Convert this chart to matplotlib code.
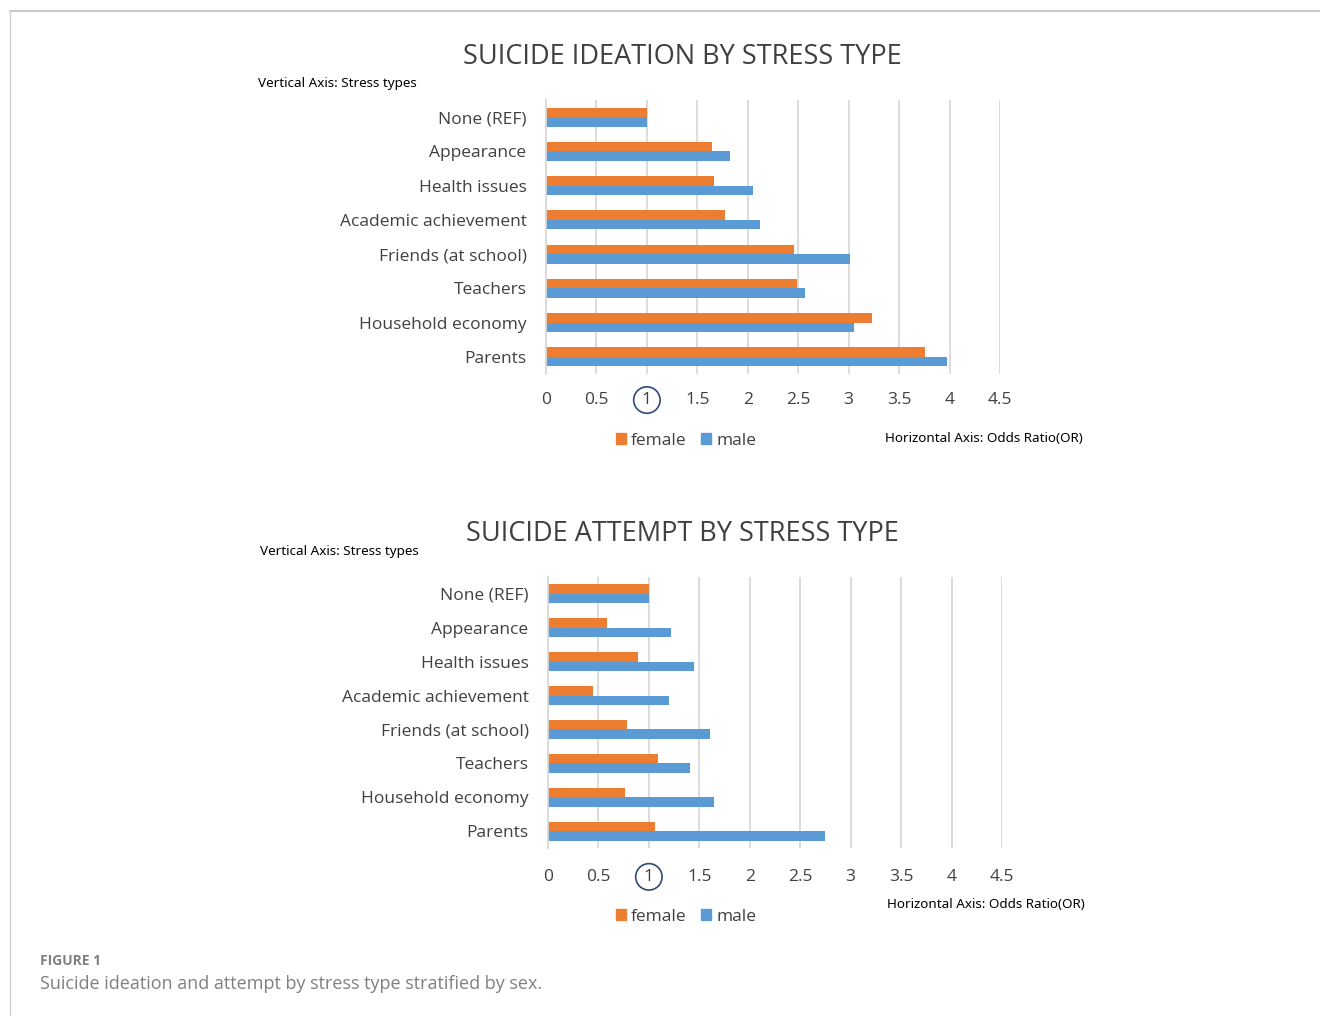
import matplotlib.pyplot as plt
import numpy as np
from matplotlib.patches import Patch

categories = ['None (REF)', 'Appearance', 'Health issues', 'Academic achievement',
              'Friends (at school)', 'Teachers', 'Household economy', 'Parents']

ideation_female = [1.0, 1.65, 1.67, 1.77, 2.46, 2.49, 3.23, 3.76]
ideation_male = [1.0, 1.82, 2.05, 2.12, 3.01, 2.57, 3.05, 3.97]

attempt_female = [1.0, 0.58, 0.89, 0.45, 0.78, 1.09, 0.76, 1.06]
attempt_male = [1.0, 1.22, 1.45, 1.20, 1.61, 1.41, 1.65, 2.75]

x_ticks = [0, 0.5, 1, 1.5, 2, 2.5, 3, 3.5, 4, 4.5]
x_tick_labels = ['0', '0.5', '1', '1.5', '2', '2.5', '3', '3.5', '4', '4.5']

ORANGE = '#ED7D31'
BLUE = '#5B9BD5'
TEXT = '#404040'

W, H = 1320, 1016
fig = plt.figure(figsize=(W / 100, H / 100), dpi=100)
plt.rcParams['font.family'] = ['Open Sans', 'DejaVu Sans']


def px_axes(x0, y0, x1, y1):
    return fig.add_axes([x0 / W, 1 - y1 / H, (x1 - x0) / W, (y1 - y0) / H])


def draw_chart(box, female, male, title, title_y, vlabel_xy, tick_y, legend_y, hlabel_xy):
    ax = px_axes(*box)
    idx = np.arange(len(categories))
    h = 0.28
    ax.barh(idx - h / 2, female, h, color=ORANGE, label='female')
    ax.barh(idx + h / 2, male, h, color=BLUE, label='male')
    ax.set_xlim(0, 4.5)
    ax.set_ylim(len(categories) - 0.5, -0.5)
    ax.set_xticks(x_ticks)
    ax.set_xticklabels(x_tick_labels)
    ax.set_yticks(idx)
    ax.set_yticklabels(categories)
    ax.grid(axis='x', color='#D9D9D9', lw=1.3)
    ax.set_axisbelow(True)
    for s in ['top', 'right', 'bottom']:
        ax.spines[s].set_visible(False)
    ax.spines['left'].set_color('#D9D9D9')
    ax.spines['left'].set_linewidth(1.3)
    ax.tick_params(length=0, labelcolor=TEXT, labelsize=12.5)
    ax.tick_params(axis='y', pad=14)
    ax.tick_params(axis='x', pad=tick_y - box[3] - 12)
    lbl = ax.get_xticklabels()[2]
    lbl.set_bbox(dict(boxstyle='circle,pad=0.3', fc='none', ec='#2E4A78', lw=1.2))

    fig.text(682 / W, 1 - title_y / H, title, ha='center', va='center',
             fontsize=19.5, color=TEXT)
    fig.text(vlabel_xy[0] / W, 1 - vlabel_xy[1] / H, 'Vertical Axis: Stress types',
             ha='left', va='center', fontsize=9.7, color='black', family='Noto Sans')
    fig.text(hlabel_xy[0] / W, 1 - hlabel_xy[1] / H, 'Horizontal Axis: Odds Ratio(OR)',
             ha='left', va='center', fontsize=9.7, color='black', family='Noto Sans')
    handles = [Patch(color=ORANGE, label='female'), Patch(color=BLUE, label='male')]
    fig.legend(handles=handles, loc='center', bbox_to_anchor=(686 / W, 1 - legend_y / H),
               ncol=2, frameon=False, fontsize=12.5, handlelength=0.6, handleheight=0.6,
               handletextpad=0.3, columnspacing=0.8, labelcolor=TEXT)


draw_chart((546, 100, 1000, 374), ideation_female, ideation_male,
           'SUICIDE IDEATION BY STRESS TYPE', 57, (258, 84), 399, 441, (885, 438))
draw_chart((548, 577, 1002, 848), attempt_female, attempt_male,
           'SUICIDE ATTEMPT BY STRESS TYPE', 534, (260, 551), 875, 917, (887, 905))

# frame lines
fig.add_artist(plt.Line2D([10 / W, 1], [1 - 11 / H, 1 - 11 / H], color='#BDBDBD', lw=1.2))
fig.add_artist(plt.Line2D([10 / W, 10 / W], [0, 1 - 11 / H], color='#D0D0D0', lw=1))

fig.text(40 / W, 1 - 961 / H, 'FIGURE 1', fontsize=10, color='#808080',
         weight='bold', va='center')
fig.text(40 / W, 1 - 984 / H, 'Suicide ideation and attempt by stress type stratified by sex.',
         fontsize=13, color='#808080', va='center')

fig.savefig('out.png', dpi=100)
